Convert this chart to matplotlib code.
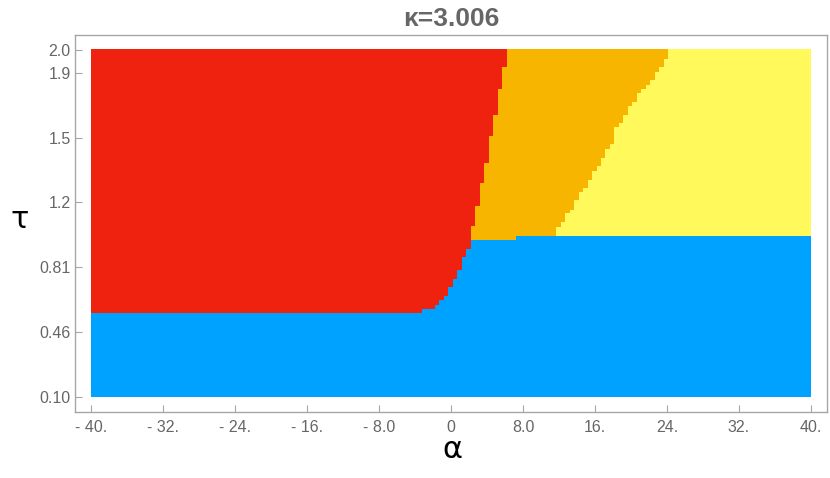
import numpy as np
import matplotlib
matplotlib.use("Agg")
import matplotlib.pyplot as plt
from matplotlib.colors import ListedColormap

# ---- data ----
# blue region upper edge (step function of alpha)
blue_alpha_edges = [-3.26, -1.78, -1.30, -0.78, -0.30, 0.22, 0.70, 1.22, 1.70, 2.19, 7.19]
blue_tau_levels = [0.558, 0.580, 0.604, 0.627, 0.653, 0.701, 0.746, 0.795, 0.863, 0.911, 0.960, 0.982]

# red / orange boundary (step function of tau)
red_tau_edges = [1.031, 1.146, 1.266, 1.381, 1.524, 1.639, 1.781, 1.902]
red_alpha_vals = [2.19, 2.70, 3.22, 3.70, 4.22, 4.70, 5.22, 5.70, 6.19]

# orange / yellow boundary (step function of tau)
oy_tau_edges = [1.029, 1.055, 1.102, 1.124, 1.173, 1.219, 1.243, 1.288, 1.336, 1.361,
                1.407, 1.453, 1.480, 1.572, 1.593, 1.641, 1.688, 1.712, 1.759, 1.781,
                1.805, 1.831, 1.876, 1.900, 1.946]
oy_alpha_vals = [11.67, 12.19, 12.67, 13.19, 13.67, 14.19, 14.67, 15.19, 15.67, 16.19,
                 16.67, 17.15, 17.67, 18.15, 18.63, 19.15, 19.63, 20.15, 20.63, 21.15,
                 21.67, 22.15, 22.67, 23.15, 23.67, 24.15]

alpha_range = (-40.0, 40.0)
tau_range = (0.1, 2.0)

xtick_vals = [-40, -32, -24, -16, -8, 0, 8, 16, 24, 32, 40]
xtick_labels = ["- 40.", "- 32.", "- 24.", "- 16.", "- 8.0", "0", "8.0", "16.", "24.", "32.", "40."]
ytick_vals = [0.10, 0.455, 0.81, 1.165, 1.52, 1.875, 2.0]
ytick_labels = ["0.10", "0.46", "0.81", "1.2", "1.5", "1.9", "2.0"]

region_colors = ["#00A2FF", "#EE220E", "#F7B500", "#FFF95B"]  # blue, red, orange, yellow
title_text = "κ=3.006"

# ---- classification raster ----
na, nt = 1600, 800
a = np.linspace(alpha_range[0], alpha_range[1], na + 1)
a = 0.5 * (a[:-1] + a[1:])
t = np.linspace(tau_range[0], tau_range[1], nt + 1)
t = 0.5 * (t[:-1] + t[1:])
A, T = np.meshgrid(a, t)

blue_top = np.asarray(blue_tau_levels)[np.searchsorted(blue_alpha_edges, A, side="right")]
red_b = np.asarray(red_alpha_vals)[np.searchsorted(red_tau_edges, T, side="right")]
oy_b = np.asarray(oy_alpha_vals)[np.searchsorted(oy_tau_edges, T, side="right")]

code = np.full(A.shape, 3)
code[A < oy_b] = 2
code[A < red_b] = 1
code[T < blue_top] = 0

# ---- figure ----
fig = plt.figure(figsize=(8.3, 4.78), dpi=100)
ax = fig.add_axes([75 / 830, 1 - 412 / 478, (827 - 75) / 830, (412 - 35) / 478])
ax.imshow(code, origin="lower", extent=[alpha_range[0], alpha_range[1], tau_range[0], tau_range[1]],
          cmap=ListedColormap(region_colors), vmin=-0.5, vmax=3.5,
          interpolation="nearest", aspect="auto")
ax.set_xlim(-41.78, 41.78)
ax.set_ylim(0.018, 2.082)

frame_col = "#A6A6A6"
for s in ax.spines.values():
    s.set_color(frame_col)
    s.set_linewidth(1.0)

ax.set_xticks(xtick_vals)
ax.set_xticklabels(xtick_labels)
ax.set_yticks(ytick_vals)
ax.set_yticklabels(ytick_labels)
ax.tick_params(direction="in", length=5, width=0.8, color=frame_col,
               labelcolor="#666666", labelsize=11.5, pad=6)
ax.tick_params(axis="y", pad=3)
for lab in ax.get_xticklabels() + ax.get_yticklabels():
    lab.set_family("Liberation Sans")

fig.text(451 / 830, 1 - 19 / 478, title_text, ha="center", va="center",
         fontsize=19, fontweight="bold", color="#666666", family="Liberation Sans")
fig.text(20 / 830, 1 - 219 / 478, "τ", ha="center", va="center", fontsize=22, color="black")
fig.text(452 / 830, 1 - 450 / 478, "α", ha="center", va="center", fontsize=22, color="black")

fig.savefig("out.png", dpi=100)
